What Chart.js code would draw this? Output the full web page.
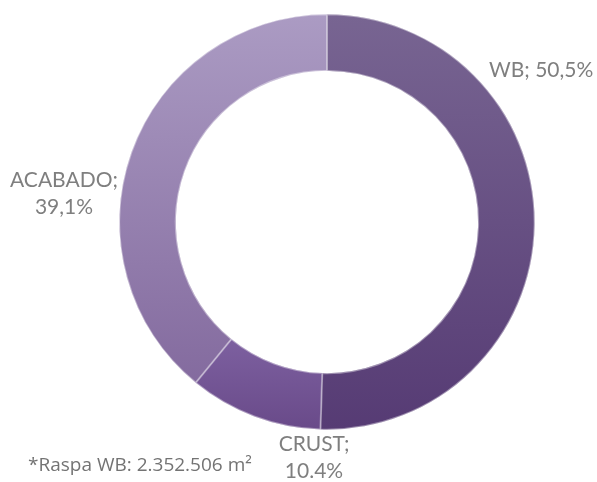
<!DOCTYPE html>
<html>
<head>
<meta charset="utf-8">
<script src="https://cdn.jsdelivr.net/npm/chart.js@4.4.0/dist/chart.umd.min.js"></script>
<style>
  html, body { margin: 0; padding: 0; background: #fff; }
  #wrap { position: relative; width: 597px; height: 482px; }
</style>
</head>
<body>
<div id="wrap"><canvas id="c" width="597" height="482"></canvas></div>
<script>
// share of area by stage, clockwise from 12 o'clock
const categories = ['WB', 'CRUST', 'ACABADO'];
const shares = [50.5, 10.4, 39.1];
const shareText = ['50,5%', '10.4%', '39,1%'];
const footnote = '*Raspa WB: 2.352.506 m\u00b2';

// gradient stops per slice: [top colour, bottom colour, top frac, bottom frac of chart area]
const sliceGrad = [
  ['#786592', '#563b74', 0.0, 1.0],
  ['#7d60a0', '#694a89', 0.78, 1.0],
  ['#ab9bc3', '#836a9e', 0.0, 0.9],
];

// label anchors (px) and alignment
const labelPos = [
  { x: 489, y: 70, align: 'left' },
  { x: 314, y: 444, align: 'center' },
  { x: 64, y: 180, align: 'center' },
];

function fillFor(ctx) {
  const chart = ctx.chart;
  const area = chart.chartArea;
  const g = sliceGrad[ctx.dataIndex];
  if (!area) return g[0];
  const h = area.bottom - area.top;
  const grad = chart.ctx.createLinearGradient(0, area.top + g[2] * h, 0, area.top + g[3] * h);
  grad.addColorStop(0, g[0]);
  grad.addColorStop(1, g[1]);
  return grad;
}

const textPlugin = {
  id: 'sliceText',
  afterDraw(chart) {
    const c = chart.ctx;
    c.save();
    c.fillStyle = '#7f7f7f';
    c.font = '21px Lato, "Open Sans", sans-serif';
    c.textBaseline = 'middle';
    categories.forEach((name, i) => {
      const p = labelPos[i];
      c.textAlign = p.align;
      if (i === 0) {
        c.fillText(name + '; ' + shareText[i], p.x, p.y);
      } else {
        c.fillText(name + ';', p.x, p.y);
        c.fillText(shareText[i], p.x, p.y + 27);
      }
    });
    c.font = '19px "Open Sans", sans-serif';
    c.fillStyle = '#737373';
    c.textAlign = 'left';
    c.fillText(footnote, 28, 466);
    c.restore();
  }
};

new Chart(document.getElementById('c').getContext('2d'), {
  type: 'doughnut',
  data: {
    labels: categories,
    datasets: [{
      data: shares,
      backgroundColor: fillFor,
      borderColor: 'rgba(255,255,255,0.4)',
      borderWidth: 1,
      borderAlign: 'inner',
    }],
  },
  options: {
    responsive: false,
    animation: false,
    cutout: '72.5%',
    layout: { padding: { left: 119, right: 62, top: 14, bottom: 52 } },
    plugins: { legend: { display: false }, tooltip: { enabled: false } },
  },
  plugins: [textPlugin],
});
</script>
</body>
</html>
